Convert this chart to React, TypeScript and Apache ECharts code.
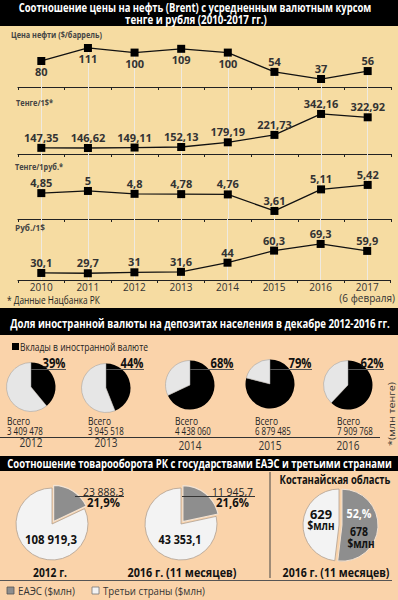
import React, { useEffect, useRef } from 'react';
import * as echarts from 'echarts';

// ---------- DATA ----------
const years = ['2010', '2011', '2012', '2013', '2014', '2015', '2016', '2017'];
const oilPrice = [80, 111, 100, 109, 100, 54, 37, 56];
const kztPerUsd = [147.35, 146.62, 149.11, 152.13, 179.19, 221.73, 342.16, 322.92];
const kztPerRub = [4.85, 5, 4.8, 4.78, 4.76, 3.61, 5.11, 5.42];
const rubPerUsd = [30.1, 29.7, 31, 31.6, 44, 60.3, 69.3, 59.9];

const depositYears = ['2012', '2013', '2014', '2015', '2016'];
const foreignShare = [39, 44, 68, 79, 62];
const depositTotals = [3409478, 3945518, 4438060, 6879485, 7909768];

const tradePeriods = ['2012 г.', '2016 г. (11 месяцев)'];
const tradeEaeu = [23888.3, 11945.7];
const tradeThird = [108919.3, 43353.1];
const tradeEaeuShare = [21.9, 21.6];

const kostanayPeriod = '2016 г. (11 месяцев)';
const kostanayEaeu = 678;
const kostanayThird = 629;
const kostanayEaeuShareText = '52,%';

// ---------- LAYOUT / STYLE ----------
const FONT = "'Open Sans', sans-serif";
const TOP_BG = '#f6dca2';
const LOW_BG = '#fad3aa';
const GRAY = '#8e8e8e';
const LIGHT = '#f3f3f3';

const fmtNum = (v: number) => {
  const [i, d] = String(v).split('.');
  const ip = i.replace(/\B(?=(\d{3})+(?!\d))/g, ' ');
  return d ? ip + ',' + d : ip;
};

const lineCharts = [
  { data: oilPrice, min: 18, max: 130, top: 40, bottom: 87, fromPoint: true,
    labelPos: ['bottom', 'bottom', 'bottom', 'bottom', 'bottom', 'top', 'top', 'top'] },
  { data: kztPerUsd, min: 112, max: 497, top: 87, bottom: 154 },
  { data: kztPerRub, min: 3.05, max: 7.57, top: 154, bottom: 219 },
  { data: rubPerUsd, min: 20.6, max: 103, top: 219, bottom: 280 },
];
const chartNames = [
  { text: 'Цена нефти ($/баррель)', x: 11, y: 34, w: 91 },
  { text: 'Тенге/1$*', x: 16, y: 102, w: 37 },
  { text: 'Тенге/1руб.*', x: 15, y: 166, w: 48 },
  { text: 'Руб./1$', x: 15, y: 228, w: 30 },
];

const depPieX = [31, 106, 190, 270, 348];
const depPieY = [387, 388, 385, 384, 385];
const depPctX = [54, 132, 222, 300, 372];
const depTotalX = [7, 88, 175, 255, 337];
const depYearY = [442, 442, 445, 445, 445];

const tradePieX = [52, 181];
const tradePieY = 524;
const tradeLabelRight = [124, 253];
const tradeUnderline = [[75, 124], [182, 255]];
const tradePeriodX = [50, 182];
const kostX = 339;
const kostY = 525;

let measureCtx: CanvasRenderingContext2D | null = null;
const measure = (text: string, font: string) => {
  if (!measureCtx) measureCtx = document.createElement('canvas').getContext('2d');
  measureCtx!.font = font;
  return measureCtx!.measureText(text).width || 1;
};

const txt = (text: string, x: number, y: number, o: any = {}) => {
  const font = `${o.weight || 'normal'} ${o.size || 11}px ${FONT}`;
  const scaleX = o.w ? o.w / measure(text, font) : 1;
  return {
    type: 'text',
    x,
    y,
    z: o.z || 50,
    rotation: o.rotation || 0,
    scaleX,
    style: {
      text,
      fill: o.color || '#222',
      font,
      textAlign: o.align || 'left',
      textVerticalAlign: 'middle',
    },
  };
};
const hline = (x1: number, x2: number, y: number, color = '#333', w = 1) => ({
  type: 'line', z: 40, shape: { x1, y1: y, x2, y2: y }, style: { stroke: color, lineWidth: w },
});

export default function App() {
  const ref = useRef<HTMLDivElement>(null);
  useEffect(() => {
    document.body.style.margin = '0';
    const chart = echarts.init(ref.current!, null, { renderer: 'svg' });

    const grids = lineCharts.map((c) => ({ left: 18, right: 7, top: c.top, height: c.bottom - c.top }));
    const xAxes = lineCharts.map((c, i) => ({
      type: 'category',
      gridIndex: i,
      data: years,
      boundaryGap: true,
      axisLine: { lineStyle: { color: '#222', width: 1.2 } },
      axisTick: { show: true, length: 3, lineStyle: { color: '#222' } },
      splitLine: { show: false },
      axisLabel:
        i === 3
          ? {
              show: true,
              interval: 0,
              margin: 1,
              fontFamily: FONT,
              fontSize: 10,
              color: '#333',
              lineHeight: 11,
              verticalAlign: 'top',
              formatter: (v: string) => (v === '2017' ? '2017\n(6 февраля)' : v),
            }
          : { show: false },
    }));
    const yAxes = lineCharts.map((c, i) => ({ type: 'value', gridIndex: i, min: c.min, max: c.max, show: false }));

    const lineSeries = lineCharts.map((c: any, i) => ({
      type: 'line',
      xAxisIndex: i,
      yAxisIndex: i,
      z: 3,
      symbol: 'rect',
      symbolSize: 8,
      itemStyle: { color: '#000' },
      lineStyle: { color: '#111', width: 1.3 },
      emphasis: { disabled: true },
      silent: true,
      data: c.data.map((v: number, j: number) =>
        c.labelPos ? { value: v, label: { position: c.labelPos[j] } } : { value: v }
      ),
      label: {
        show: true,
        position: 'top',
        distance: 1,
        fontFamily: FONT,
        fontWeight: 'bold',
        fontSize: 11,
        color: '#333',
        formatter: (p: any) => fmtNum(p.value),
      },
      markLine: {
        silent: true,
        z: 1,
        symbol: ['none', 'none'],
        label: { show: false },
        emphasis: { disabled: true },
        lineStyle: { color: '#efeae0', width: 1, type: 'solid' },
        data: c.fromPoint
          ? c.data.map((v: number, j: number) => [{ coord: [j, v] }, { coord: [j, c.min] }])
          : years.map((y) => ({ xAxis: y })),
      },
    }));

    const depPies = foreignShare.map((s, i) => ({
      type: 'pie',
      center: [depPieX[i], depPieY[i]],
      radius: 24.5,
      startAngle: 90,
      silent: true,
      label: { show: false },
      labelLine: { show: false },
      emphasis: { disabled: true },
      data: [
        { value: s, name: 'Вклады в иностранной валюте', itemStyle: { color: '#000' } },
        { value: 100 - s, name: 'Прочие', itemStyle: { color: '#e6e6e6', borderColor: '#999', borderWidth: 0.5 } },
      ],
    }));

    const tradePies = tradeEaeu.map((e, i) => ({
      type: 'pie',
      center: [tradePieX[i], tradePieY],
      radius: 36,
      startAngle: 90,
      silent: true,
      selectedMode: 'single',
      selectedOffset: 3,
      label: { show: false },
      labelLine: { show: false },
      emphasis: { disabled: true },
      data: [
        { value: e, name: 'ЕАЭС', selected: true, itemStyle: { color: GRAY, borderColor: '#f3e3d3', borderWidth: 1.2 } },
        { value: tradeThird[i], name: 'Третьи страны', itemStyle: { color: LIGHT, borderColor: '#b0a090', borderWidth: 0.8 } },
      ],
    }));

    const kostPie = {
      type: 'pie',
      center: [kostX, kostY],
      radius: 36,
      startAngle: 90,
      silent: true,
      selectedMode: 'single',
      selectedOffset: 3,
      label: { show: false },
      labelLine: { show: false },
      emphasis: { disabled: true },
      data: [
        { value: kostanayEaeu, name: 'ЕАЭС', selected: true, itemStyle: { color: GRAY, borderColor: '#f3e3d3', borderWidth: 1 } },
        { value: kostanayThird, name: 'Третьи страны', itemStyle: { color: LIGHT, borderColor: '#b0a090', borderWidth: 0.8 } },
      ],
    };

    const W = (o: any) => ({ color: '#fff', weight: 'bold', size: 12, align: 'center', ...o });
    const graphics: any[] = [
      // backgrounds
      { type: 'rect', z: 0, shape: { x: 0, y: 0, width: 398, height: 308 }, style: { fill: TOP_BG } },
      { type: 'rect', z: 0, shape: { x: 0, y: 0, width: 398, height: 26 }, style: { fill: '#000' } },
      { type: 'rect', z: 0, shape: { x: 0, y: 308, width: 398, height: 27 }, style: { fill: '#000' } },
      { type: 'rect', z: 0, shape: { x: 0, y: 456, width: 398, height: 15 }, style: { fill: '#000' } },
      // titles
      txt('Соотношение цены на нефть (Brent) с усредненным валютным курсом', 195, 7.5, W({ w: 353 })),
      txt('тенге и рубля (2010-2017 гг.)', 196, 19.5, W({ w: 142 })),
      txt('Доля иностранной валюты на депозитах населения в декабре 2012-2016 гг.', 200, 323, W({ w: 380 })),
      txt('Соотношение товарооборота РК с государствами ЕАЭС и третьими странами', 199.5, 463.5, W({ w: 385 })),
      // line chart names
      ...chartNames.map((n) => txt(n.text, n.x, n.y, { weight: 'bold', size: 9.5, color: '#444', w: n.w })),
      txt('* Данные Нацбанка РК', 7, 300, { size: 10.5, color: '#222', w: 93 }),
      // deposits legend
      { type: 'rect', z: 40, shape: { x: 12, y: 343, width: 7, height: 7 }, style: { fill: '#000' } },
      txt('Вклады в иностранной валюте', 20, 347, { size: 10.5, color: '#222', w: 128 }),
      // deposit pie labels
      ...foreignShare.map((s, i) => txt(`${s}%`, depPctX[i], 362, { weight: 'bold', size: 14, color: '#111', align: 'center', w: 23, z: 100 })),
      ...foreignShare.map((s, i) => ({ ...hline(depPieX[i], depPctX[i] + 12, 369.5, '#555', 1), z: 100 })),
      ...depositTotals.map((t, i) => txt('Всего', depTotalX[i], 421.5, { size: 10, w: 23 })),
      ...depositTotals.map((t, i) => txt(fmtNum(t), depTotalX[i], 431, { size: 10, w: 36 })),
      hline(0, 380, 437.5, '#333', 1),
      ...depositYears.map((y, i) => txt(y, depPieX[i], depYearY[i], { size: 12.5, color: '#333', align: 'center', w: 23 })),
      txt('*(млн тенге)', 391, 414, { size: 9.5, color: '#333', align: 'center', rotation: Math.PI / 2, w: 64 }),
      // trade section
      ...tradeEaeu.map((e, i) => txt(fmtNum(e), tradeLabelRight[i], 491, { size: 11.5, align: 'right', w: 41 })),
      ...tradeEaeu.map((e, i) => hline(tradeUnderline[i][0], tradeUnderline[i][1], 496.5, '#333', 1)),
      ...tradeEaeuShare.map((s, i) => txt(`${fmtNum(s)}%`, tradeLabelRight[i] - 4, 502.5, { size: 12.5, weight: 'bold', color: '#111', align: 'right', w: 33 })),
      ...tradeThird.map((t, i) => txt(fmtNum(t), tradePieX[i] - 1, 539.5, { size: 12.5, weight: 'bold', color: '#111', align: 'center', w: t > 100000 ? 52 : 43, z: 100 })),
      ...tradePeriods.map((p, i) => txt(p, tradePeriodX[i], 572, { size: 12, weight: 'bold', color: '#111', align: 'center', w: i === 0 ? 34 : 109 })),
      txt('Костанайская область', 335, 479, { size: 12, weight: 'bold', color: '#111', align: 'center', w: 111 }),
      txt(kostanayPeriod, 336, 572, { size: 12, weight: 'bold', color: '#111', align: 'center', w: 107 }),
      { type: 'line', z: 40, shape: { x1: 270, y1: 472, x2: 270, y2: 578 }, style: { stroke: '#444', lineWidth: 1 } },
      hline(0, 392, 580.5, '#555', 1),
      txt(String(kostanayThird), 321, 514, { size: 12.5, weight: 'bold', color: '#111', align: 'center', w: 22, z: 100 }),
      txt('$млн', 321, 525.5, { size: 12.5, weight: 'bold', color: '#111', align: 'center', w: 27, z: 100 }),
      txt(kostanayEaeuShareText, 359, 513, { size: 12.5, weight: 'bold', color: '#fff', align: 'center', w: 25, z: 100 }),
      txt(String(kostanayEaeu), 359, 531, { size: 12.5, weight: 'bold', color: '#111', align: 'center', w: 18, z: 100 }),
      txt('$млн', 361, 543, { size: 12.5, weight: 'bold', color: '#111', align: 'center', w: 27, z: 100 }),
      // trade legend
      { type: 'rect', z: 40, shape: { x: 7, y: 587, width: 7, height: 7 }, style: { fill: GRAY, stroke: '#555', lineWidth: 0.8 } },
      txt('ЕАЭС ($млн)', 18, 591, { size: 10.5, color: '#333', w: 57 }),
      { type: 'rect', z: 40, shape: { x: 92, y: 587, width: 7, height: 7 }, style: { fill: LIGHT, stroke: '#777', lineWidth: 0.8 } },
      txt('Третьи страны ($млн)', 103, 591, { size: 10.5, color: '#333', w: 102 }),
    ];

    chart.setOption({
      animation: false,
      backgroundColor: LOW_BG,
      grid: grids,
      xAxis: xAxes,
      yAxis: yAxes,
      series: [...lineSeries, ...depPies, ...tradePies, kostPie],
      graphic: { elements: graphics },
    } as any);
    return () => chart.dispose();
  }, []);
  return <div ref={ref} style={{ width: 398, height: 600 }} />;
}
